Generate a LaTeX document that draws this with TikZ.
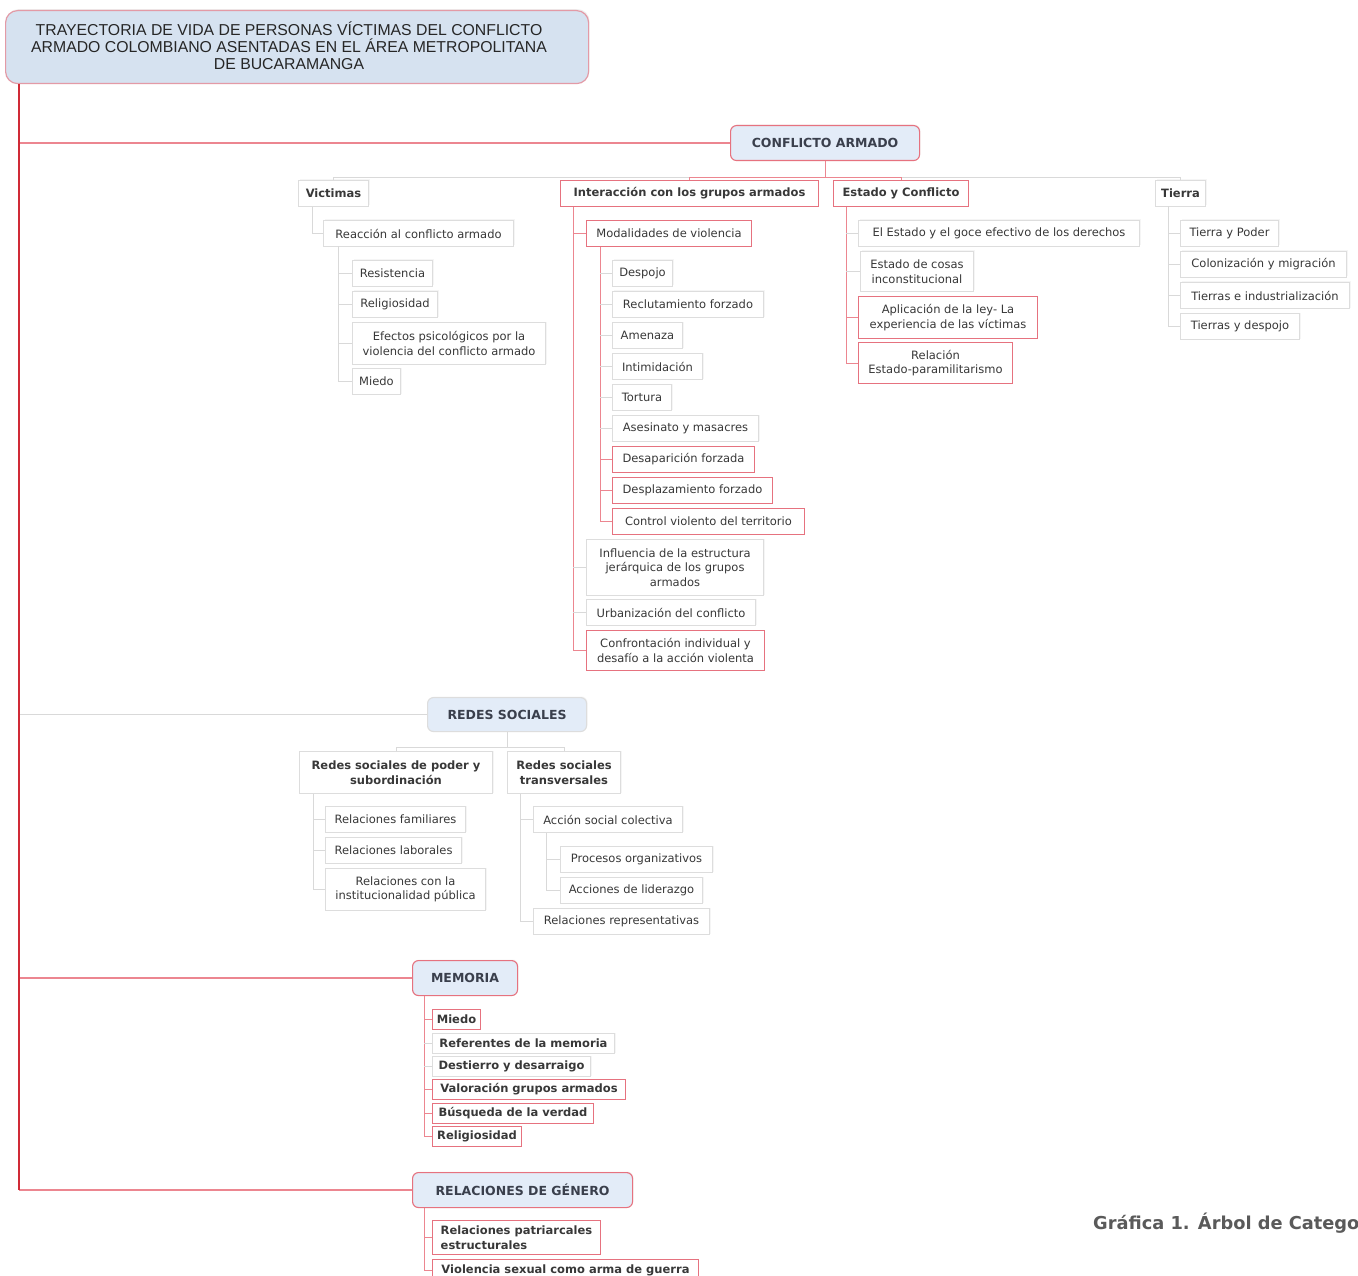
\documentclass[tikz,border=0pt]{standalone}
\usepackage{fontspec}
\setmainfont{DejaVu Sans}
\newfontfamily\titlefont{Liberation Sans}
\usetikzlibrary{calc,shadows}
\definecolor{txt}{HTML}{383838}
\definecolor{hdrtxt}{HTML}{3A3F4C}
\definecolor{rborder}{HTML}{E6727F}
\definecolor{gborder}{HTML}{DDDDDD}
\definecolor{hfill}{HTML}{E3ECF8}
\definecolor{tfill}{HTML}{D6E2F0}
\definecolor{tborder}{HTML}{E39AA6}
\definecolor{trunkc}{HTML}{D02A36}
\definecolor{rline}{HTML}{EC8690}
\definecolor{gline}{HTML}{D9D9D9}
\definecolor{captc}{HTML}{5A5A5A}
\begin{document}
\begin{tikzpicture}[x=1pt,y=-1pt,
  base/.style={anchor=north west, font=\fontsize{11.5}{14.5}\selectfont, text=txt,
    inner xsep=5, inner ysep=2, minimum height=26, align=center, line width=1},
  gbox/.style={base, draw=gborder, fill=white,
    drop shadow={shadow xshift=1, shadow yshift=-1, opacity=0.08}},
  rbox/.style={base, draw=rborder, fill=white},
  gbold/.style={gbox, font=\fontsize{11.5}{14.5}\selectfont\bfseries},
  rbold/.style={rbox, font=\fontsize{11.5}{14.5}\selectfont\bfseries},
  mg/.style={gbold, minimum height=20, inner ysep=1, inner xsep=3},
  mr/.style={rbold, minimum height=20, inner ysep=1, inner xsep=3},
  hdr/.style={anchor=north west, rounded corners=6, fill=hfill, line width=1.1,
    font=\fontsize{12.5}{15}\selectfont\bfseries, text=hdrtxt, minimum height=35,
    drop shadow={shadow xshift=1, shadow yshift=-1, opacity=0.08}},
  hdrr/.style={hdr, draw=rborder},
  hdrg/.style={hdr, draw=gborder},
  rl/.style={draw=rline, line width=1},
  gl/.style={draw=gline, line width=1},
  trunk/.style={draw=trunkc, line width=2},
  branch/.style={draw=rline, line width=1.4},
  gbranch/.style={draw=gline, line width=1.4}
]
\useasboundingbox (0,0) rectangle (1358,1276);
\clip (0,0) rectangle (1358,1276);
\fill[white] (0,0) rectangle (1358,1276);

% ---------- title ----------
\node[anchor=north west, minimum width=583, minimum height=73, rounded corners=12,
  fill=tfill, draw=tborder, line width=1.2,
  drop shadow={shadow xshift=1, shadow yshift=-1.5, opacity=0.12}] (title) at (5,10) {};
\node[text=black!85, align=center, inner sep=0,
  font=\titlefont\fontsize{15.8}{17}\selectfont] (titletext) at (289,46)
  {TRAYECTORIA DE VIDA DE PERSONAS VÍCTIMAS DEL CONFLICTO\\ARMADO COLOMBIANO ASENTADAS EN EL ÁREA METROPOLITANA\\DE BUCARAMANGA};

% ---------- main headers ----------
\node[hdrr, minimum width=189] (conf) at (730,125) {CONFLICTO ARMADO};
\node[hdrg, minimum width=159, minimum height=34] (redes) at (427,697) {REDES SOCIALES};
\node[hdrr, minimum width=105] (memo) at (412,960) {MEMORIA};
\node[hdrr, minimum width=220] (gen) at (412,1172) {RELACIONES DE GÉNERO};

% ---------- conflicto armado level 2 ----------
\node[gbold, minimum width=70] (vict) at (298,180) {Victimas};
\node[rbold, minimum width=258] (inter) at (560,180) {Interacción con los grupos armados};
\node[rbold, minimum width=135] (estado) at (833,180) {Estado y Conflicto};
\node[gbold, minimum width=50] (tierra) at (1155,180) {Tierra};

% victimas
\node[gbox, minimum width=190] (reac) at (323,220) {Reacción al conflicto armado};
\node[gbox, minimum width=80] (resist) at (352,260) {Resistencia};
\node[gbox, minimum width=85] (relig) at (352,291) {Religiosidad};
\node[gbox, minimum width=193, minimum height=42] (efect) at (352,322) {Efectos psicológicos por la\\violencia del conflicto armado};
\node[gbox, minimum width=48] (miedoa) at (352,368) {Miedo};

% interaccion
\node[rbox, minimum width=165] (modal) at (586,220) {Modalidades de violencia};
\node[gbox, minimum width=60] (despojo) at (612,260) {Despojo};
\node[gbox, minimum width=151] (reclut) at (612,291) {Reclutamiento forzado};
\node[gbox, minimum width=70] (amen) at (612,322) {Amenaza};
\node[gbox, minimum width=90] (intim) at (612,353) {Intimidación};
\node[gbox, minimum width=59] (tort) at (612,384) {Tortura};
\node[gbox, minimum width=146] (asesin) at (612,415) {Asesinato y masacres};
\node[rbox, minimum width=142] (desap) at (612,446) {Desaparición forzada};
\node[rbox, minimum width=160] (despl) at (612,477) {Desplazamiento forzado};
\node[rbox, minimum width=192] (control) at (612,508) {Control violento del territorio};
\node[gbox, minimum width=177, minimum height=56] (influ) at (586,539) {Influencia de la estructura\\jerárquica de los grupos\\armados};
\node[gbox, minimum width=169] (urban) at (586,599) {Urbanización del conflicto};
\node[rbox, minimum width=178, minimum height=40] (confr) at (586,630) {Confrontación individual y\\desafío a la acción violenta};

% estado
\node[gbox, minimum width=281] (goce) at (858,220) {El Estado y el goce efectivo de los derechos};
\node[gbox, minimum width=113, minimum height=40] (cosas) at (860,251) {Estado de cosas\\inconstitucional};
\node[rbox, minimum width=179, minimum height=42] (aplic) at (858,296) {Aplicación de la ley- La\\experiencia de las víctimas};
\node[rbox, minimum width=154, minimum height=41] (relac) at (858,342) {Relación\\Estado-paramilitarismo};

% tierra
\node[gbox, minimum width=98] (tpod) at (1180,220) {Tierra y Poder};
\node[gbox, minimum width=166] (colon) at (1180,251) {Colonización y migración};
\node[gbox, minimum width=169] (indus) at (1180,282) {Tierras e industrialización};
\node[gbox, minimum width=119] (tdesp) at (1180,313) {Tierras y despojo};

% ---------- redes sociales ----------
\node[gbold, minimum width=193, minimum height=42] (poder) at (299,751) {Redes sociales de poder y\\subordinación};
\node[gbold, minimum width=113, minimum height=42] (trans) at (507,751) {Redes sociales\\transversales};
\node[gbox, minimum width=140] (fam) at (325,806) {Relaciones familiares};
\node[gbox, minimum width=136] (lab) at (325,837) {Relaciones laborales};
\node[gbox, minimum width=160, minimum height=42] (inst) at (325,868) {Relaciones con la\\institucionalidad pública};
\node[gbox, minimum width=149] (accion) at (533,806) {Acción social colectiva};
\node[gbox, minimum width=152] (proc) at (560,846) {Procesos organizativos};
\node[gbox, minimum width=142] (lider) at (560,877) {Acciones de liderazgo};
\node[gbox, minimum width=176] (repres) at (533,908) {Relaciones representativas};

% ---------- memoria ----------
\node[mr, minimum width=48] (m1) at (432,1009) {Miedo};
\node[mg, minimum width=182] (m2) at (432,1033) {Referentes de la memoria};
\node[mg, minimum width=158] (m3) at (432,1056) {Destierro y desarraigo};
\node[mr, minimum width=193] (m4) at (432,1079) {Valoración grupos armados};
\node[mr, minimum width=161] (m5) at (432,1103) {Búsqueda de la verdad};
\node[mr, minimum width=89] (m6) at (432,1126) {Religiosidad};

% ---------- relaciones de genero ----------
\node[mr, minimum width=168, minimum height=34, align=left] (g1) at (432,1220) {Relaciones patriarcales\\estructurales};
\node[mr, minimum width=266, minimum height=22] (g2) at (432,1259) {Violencia sexual como arma de guerra};

% ---------- caption ----------
\node[anchor=west, inner sep=0, font=\fontsize{17.8}{20}\selectfont\bfseries, text=captc] (cap) at (1093,1223) {Gráfica 1. Árbol de Catego};

% ================= connectors =================
\coordinate (tt) at ($(title.south west)+(14,0)$);
\draw[gbranch] (tt |- redes.west) -- (redes.west);
\draw[branch] (tt |- conf.west) -- (conf.west);
\draw[branch] (tt |- memo.west) -- (memo.west);
\draw[branch] (tt |- gen.west) -- (gen.west);
\draw[trunk] (tt) -- (tt |- gen.west);

% conflicto bar
\coordinate (cb) at ($(conf.south)+(0,16)$);
\draw[gl] (vict.north) |- (cb) -| (tierra.north);
\draw[rl] (inter.north) |- (cb) -| (estado.north);
\draw[rl] (conf.south) -- (cb);

% victimas
\draw[gl] ($(vict.south west)+(14,0)$) |- (reac.west);
\foreach \n in {resist,relig,efect,miedoa}
  \draw[gl] ($(reac.south west)+(15,0)$) |- (\n.west);

% interaccion
\coordinate (iv) at ($(inter.south west)+(13,0)$);
\draw[rl] (iv) -- (iv |- confr.west);
\foreach \n in {influ,urban} \draw[gl] (iv |- \n.west) -- (\n.west);
\foreach \n in {modal,confr} \draw[rl] (iv |- \n.west) -- (\n.west);

\coordinate (mv) at ($(modal.south west)+(14,0)$);
\draw[rl] (mv) -- (mv |- control.west);
\foreach \n in {despojo,reclut,amen,intim,tort,asesin} \draw[gl] (mv |- \n.west) -- (\n.west);
\foreach \n in {desap,despl,control} \draw[rl] (mv |- \n.west) -- (\n.west);

% estado
\coordinate (ev) at ($(estado.south west)+(13,0)$);
\draw[rl] (ev) -- (ev |- relac.west);
\foreach \n in {goce,cosas} \draw[gl] (ev |- \n.west) -- (\n.west);
\foreach \n in {aplic,relac} \draw[rl] (ev |- \n.west) -- (\n.west);

% tierra
\foreach \n in {tpod,colon,indus,tdesp}
  \draw[gl] ($(tierra.south west)+(13,0)$) |- (\n.west);

% redes
\coordinate (rb) at ($(redes.south)+(0,15)$);
\draw[gl] (poder.north) |- (rb) -| (trans.north);
\draw[gl] (redes.south) -- (rb);
\foreach \n in {fam,lab,inst}
  \draw[gl] ($(poder.south west)+(14,0)$) |- (\n.west);
\foreach \n in {accion,repres}
  \draw[gl] ($(trans.south west)+(13,0)$) |- (\n.west);
\foreach \n in {proc,lider}
  \draw[gl] ($(accion.south west)+(13,0)$) |- (\n.west);

% memoria
\coordinate (mmv) at ($(memo.south west)+(12,0)$);
\draw[rl] (mmv) -- (mmv |- m6.west);
\foreach \n in {m2,m3} \draw[gl] (mmv |- \n.west) -- (\n.west);
\foreach \n in {m1,m4,m5,m6} \draw[rl] (mmv |- \n.west) -- (\n.west);

% genero
\coordinate (gv) at ($(gen.south west)+(12,0)$);
\draw[rl] (gv) -- (gv |- g2.west);
\foreach \n in {g1,g2} \draw[rl] (gv |- \n.west) -- (\n.west);
\end{tikzpicture}
\end{document}
